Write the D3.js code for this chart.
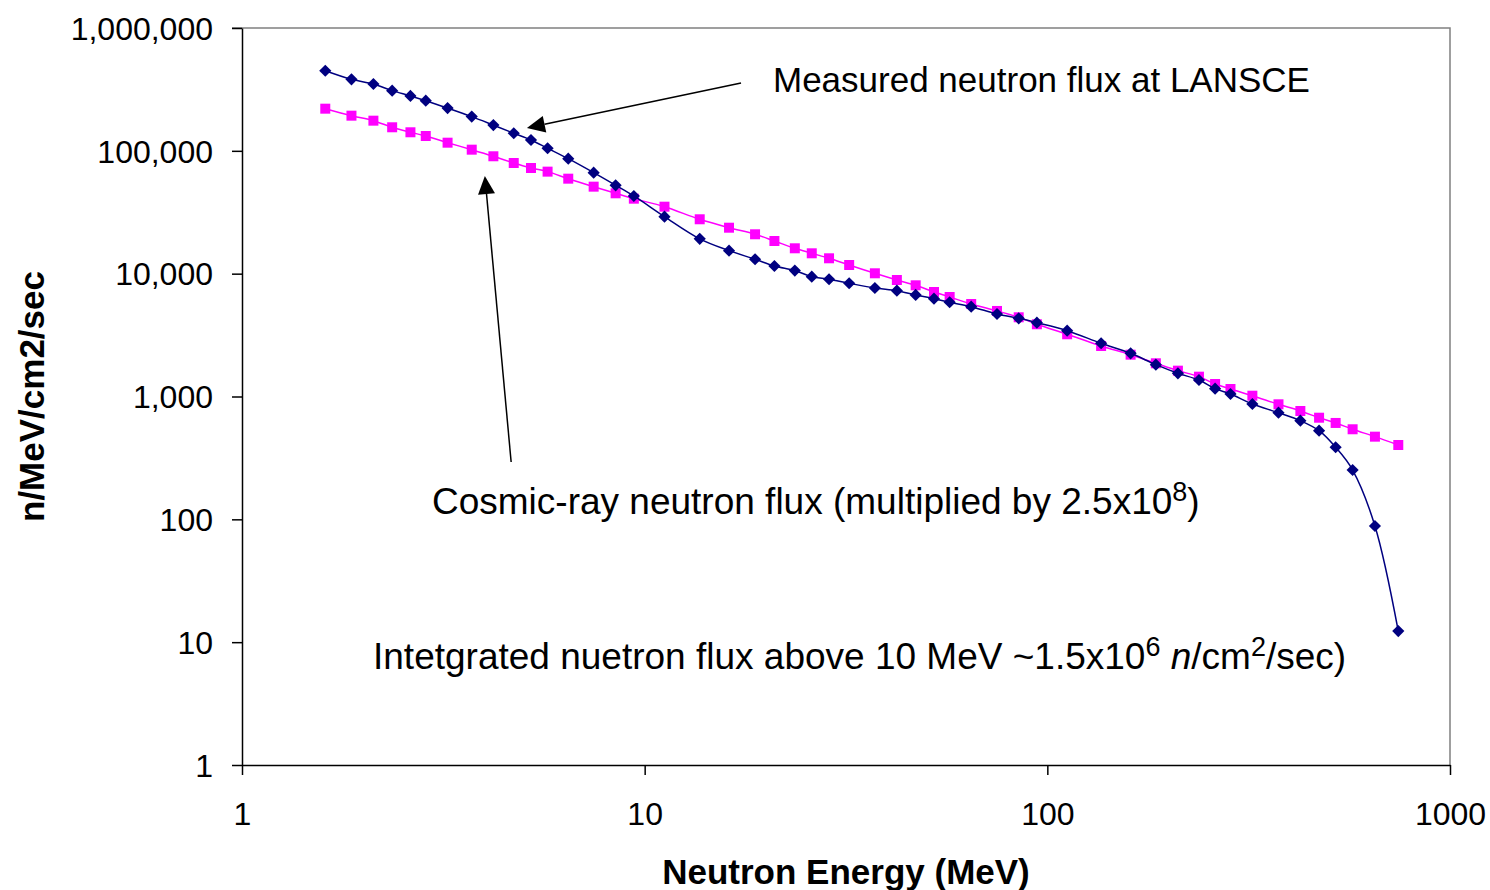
<!DOCTYPE html>
<meta charset="utf-8">
<style>
body { margin: 0; background: #fff; }
svg { font-family: "Liberation Sans", Arial, sans-serif; }
.tick text { font-size: 32px; fill: #000; }
.annot { fill: #000; }
.axis-title { font-size: 35px; font-weight: bold; fill: #000; }
</style>
<svg width="1490" height="890"></svg>
<script src="https://d3js.org/d3.v7.min.js"></script>
<script>

// neutron energy (MeV), same for both series
var energy = [1.61, 1.87, 2.12, 2.36, 2.62, 2.86, 3.24, 3.72, 4.21, 4.73,
  5.22, 5.74, 6.46, 7.47, 8.47, 9.40, 11.2, 13.7, 16.2, 18.8,
  21.0, 23.6, 26.0, 28.7, 32.2, 37.3, 42.3, 47.1, 52.3, 57.2,
  64.7, 75.0, 84.9, 94.2, 112, 136, 161, 186, 211, 238,
  261, 285, 323, 375, 425, 473, 520, 573, 651, 744];

// measured flux at LANSCE (n/MeV/cm2/sec)
var lansceFlux = [449000, 382000, 350000, 309000, 280000, 256000, 223000, 190000, 162000, 139000,
  122600, 104900, 86300, 66400, 52400, 42900, 29100, 19200, 15400, 13100,
  11550, 10600, 9450, 9000, 8350, 7640, 7270, 6710, 6260, 5850,
  5385, 4695, 4330, 3990, 3435, 2712, 2247, 1816, 1545, 1362,
  1158, 1048, 869, 738, 636, 527, 386, 252, 88.3, 12.3];

// cosmic-ray flux x 2.5e8
var cosmicFlux = [220400, 193300, 176000, 155500, 141600, 132100, 116500, 102200, 90300, 79600,
  72500, 67700, 59340, 51090, 45110, 40780, 35100, 27720, 23670, 20920,
  18450, 16090, 14650, 13340, 11770, 10070, 8880, 8040, 7095, 6460,
  5665, 4970, 4415, 3872, 3210, 2578, 2190, 1864, 1623, 1450,
  1264, 1151, 1015, 864, 762, 672, 609, 541, 471, 403];

var xTicks = [1, 10, 100, 1000];
var yTicks = [1, 10, 100, 1000, 10000, 100000, 1000000];

var svg = d3.select("svg");

var x = d3.scaleLog().domain([1, 1000]).range([242, 1450]);
var y = d3.scaleLog().domain([1, 1000000]).range([765, 28]);

// gray frame on top and right
svg.append("path")
    .attr("d", "M" + (x.range()[0] - 10) + "," + y.range()[1] + "H" + x.range()[1] + "V" + y.range()[0])
    .attr("fill", "none")
    .attr("stroke", "#808080")
    .attr("stroke-width", 1.5);

var yAxis = svg.append("g")
    .attr("transform", "translate(" + x.range()[0] + ",0)")
    .call(d3.axisLeft(y)
      .tickValues(yTicks)
      .tickFormat(d3.format(","))
      .tickSize(10)
      .tickSizeOuter(0)
      .tickPadding(19));

var xAxis = svg.append("g")
    .attr("transform", "translate(0," + y.range()[0] + ")")
    .call(d3.axisBottom(x)
      .tickValues(xTicks)
      .tickFormat(d3.format("d"))
      .tickSize(10)
      .tickSizeOuter(0)
      .tickPadding(27));

svg.selectAll(".domain, .tick line").attr("stroke", "#000").attr("stroke-width", 1.5);
yAxis.selectAll(".tick text").attr("dy", "0.35em");
yAxis.attr("font-size", null).attr("font-family", null);
xAxis.attr("font-size", null).attr("font-family", null);

// axis titles
svg.append("text")
    .attr("class", "axis-title")
    .attr("x", (x.range()[0] + x.range()[1]) / 2)
    .attr("y", 884)
    .attr("text-anchor", "middle")
    .text("Neutron Energy (MeV)");

svg.append("text")
    .attr("class", "axis-title")
    .attr("transform", "translate(44," + (y.range()[0] + y.range()[1]) / 2 + ") rotate(-90)")
    .attr("text-anchor", "middle")
    .text("n/MeV/cm2/sec");

// series
var series = [
  {name: "cosmic", values: cosmicFlux, color: "#FF00FF", shape: "square"},
  {name: "lansce", values: lansceFlux, color: "#000080", shape: "diamond"}
];

var line = d3.line()
    .x(function(d) { return x(d[0]); })
    .y(function(d) { return y(d[1]); })
    .curve(d3.curveCatmullRom);

series.forEach(function(s) {
  var pts = energy.map(function(e, i) { return [e, s.values[i]]; });

  svg.append("path")
      .datum(pts)
      .attr("fill", "none")
      .attr("stroke", s.color)
      .attr("stroke-width", 1.5)
      .attr("d", line);

  var sym = s.shape == "square"
    ? d3.symbol().type(d3.symbolSquare).size(100)
    : d3.symbol().type(d3.symbolSquare).size(74);

  svg.append("g").selectAll("path")
      .data(pts)
    .enter().append("path")
      .attr("d", sym)
      .attr("fill", s.color)
      .attr("transform", function(d) {
        return "translate(" + x(d[0]) + "," + y(d[1]) + ")" + (s.shape == "diamond" ? " rotate(45)" : "");
      });
});

// arrows (tip and tail in data units)
var arrows = [
  {tip: [5.10, 153500], tail: [17.35, 356500]},
  {tip: [4.01, 62400], tail: [4.66, 293]}
];

arrows.forEach(function(a) {
  var tx = x(a.tip[0]), ty = y(a.tip[1]);
  var bx = x(a.tail[0]), by = y(a.tail[1]);
  var dx = bx - tx, dy = by - ty, len = Math.sqrt(dx * dx + dy * dy);
  var ux = dx / len, uy = dy / len;
  var hl = 18, hw = 8.5;
  var baseX = tx + ux * hl, baseY = ty + uy * hl;

  svg.append("line")
      .attr("x1", bx).attr("y1", by)
      .attr("x2", baseX).attr("y2", baseY)
      .attr("stroke", "#000")
      .attr("stroke-width", 1.5);

  svg.append("path")
      .attr("d", "M" + tx + "," + ty +
                 "L" + (baseX - uy * hw) + "," + (baseY + ux * hw) +
                 "L" + (baseX + uy * hw) + "," + (baseY - ux * hw) + "Z")
      .attr("fill", "#000");
});

// annotations
svg.append("text")
    .attr("class", "annot")
    .style("font-size", "35px")
    .attr("x", 773).attr("y", 92)
    .text("Measured neutron flux at LANSCE");

var t2 = svg.append("text")
    .attr("class", "annot")
    .style("font-size", "37px")
    .attr("x", 432).attr("y", 514);
t2.append("tspan").text("Cosmic-ray neutron flux (multiplied by 2.5x10");
t2.append("tspan").attr("dy", -13).style("font-size", "27px").text("8");
t2.append("tspan").attr("dy", 13).text(")");

var t3 = svg.append("text")
    .attr("class", "annot")
    .style("font-size", "37px")
    .attr("x", 373).attr("y", 669);
t3.append("tspan").text("Intetgrated nuetron flux above 10 MeV ~1.5x10");
t3.append("tspan").attr("dy", -13).style("font-size", "27px").text("6");
t3.append("tspan").attr("dy", 13).text(" ");
t3.append("tspan").style("font-style", "italic").text("n");
t3.append("tspan").text("/cm");
t3.append("tspan").attr("dy", -13).style("font-size", "27px").text("2");
t3.append("tspan").attr("dy", 13).text("/sec)");

</script>
